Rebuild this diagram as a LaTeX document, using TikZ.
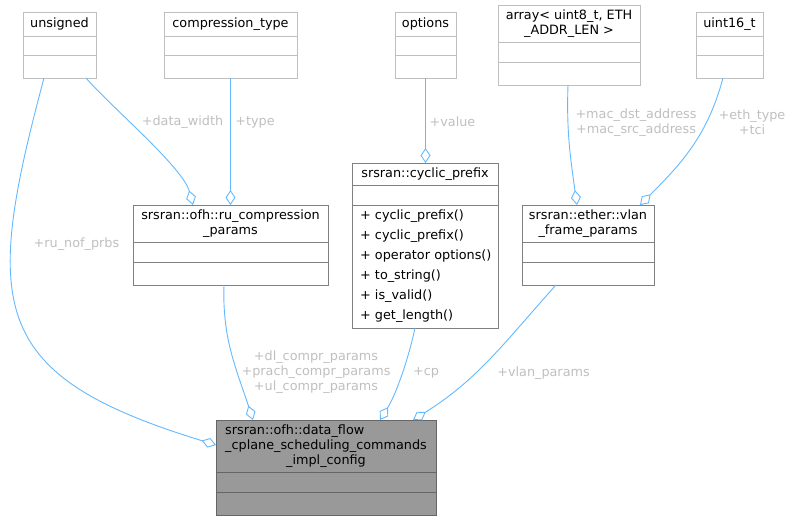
\documentclass[tikz,border=0pt]{standalone}
\usepackage{fontspec}
\setmainfont{DejaVu Sans}
\usepackage{tikz}
\usetikzlibrary{arrows.meta,positioning}
\definecolor{edgeblue}{HTML}{63B8FF}
\definecolor{labelgray}{HTML}{BFBFBF}
\definecolor{extgray}{HTML}{BFBFBF}
\definecolor{clsgray}{HTML}{808080}
\definecolor{maingray}{HTML}{999999}
\definecolor{mainborder}{HTML}{666666}
\newcommand{\dxfont}{\fontsize{12.8}{15}\selectfont}

\begin{document}
\begin{tikzpicture}[
    x=1pt, y=-1pt,
    node distance=0pt,
    box/.style={rectangle, draw, fill=white, line width=0.9pt, outer sep=0pt, inner sep=3pt, font=\dxfont, align=center},
    ext/.style={box, draw=extgray},
    cls/.style={box, draw=clsgray},
    mainbox/.style={box, draw=mainborder, fill=maingray},
    slot/.style 2 args={minimum width=#1, minimum height=#2},
    title/.style={anchor=north west},
    lbl/.style={font=\dxfont, text=labelgray, inner sep=0pt, align=center},
    link/.style={draw=edgeblue, line width=0.9pt, -{Diamond[open, length=15pt, width=10pt]}}
]
\useasboundingbox (0,0) rectangle (793,520);

% --- TOP ROW (member types) ---
\node (unsigned)   [ext, title, slot={73pt}{24pt}] at (23,12) {unsigned};
\node (unsigned-a) [ext, below=of unsigned, slot={73pt}{19pt}] {};
\node (unsigned-m) [ext, below=of unsigned-a, slot={73pt}{23pt}] {};

\node (comptype)   [ext, title, slot={133pt}{24pt}] at (164,12) {compression\_type};
\node (comptype-a) [ext, below=of comptype, slot={133pt}{19pt}] {};
\node (comptype-m) [ext, below=of comptype-a, slot={133pt}{23pt}] {};

\node (options)   [ext, title, slot={61pt}{24pt}] at (395,12) {options};
\node (options-a) [ext, below=of options, slot={61pt}{19pt}] {};
\node (options-m) [ext, below=of options-a, slot={61pt}{23pt}] {};

\node (array)   [ext, title, slot={142pt}{37pt}] at (498,5) {array< uint8\_t, ETH\\\_ADDR\_LEN >};
\node (array-a) [ext, below=of array, slot={142pt}{20pt}] {};
\node (array-m) [ext, below=of array-a, slot={142pt}{23pt}] {};

\node (uint16)   [ext, title, slot={67pt}{24pt}] at (696,12) {uint16\_t};
\node (uint16-a) [ext, below=of uint16, slot={67pt}{19pt}] {};
\node (uint16-m) [ext, below=of uint16-a, slot={67pt}{23pt}] {};

% --- MIDDLE ROW (srsran classes) ---
\node (rucomp)   [cls, title, slot={195pt}{37pt}] at (133,205) {srsran::ofh::ru\_compression\\\_params};
\node (rucomp-a) [cls, below=of rucomp, slot={195pt}{20pt}] {};
\node (rucomp-m) [cls, below=of rucomp-a, slot={195pt}{23pt}] {};

\node (cyclic)   [cls, title, slot={146pt}{22pt}] at (352,163) {srsran::cyclic\_prefix};
\node (cyclic-a) [cls, below=of cyclic, slot={146pt}{20pt}] {};
\node (cyclic-m) [cls, below=of cyclic-a, minimum height=123pt, inner xsep=8pt, text width=130pt, align=left,
                  font=\fontsize{12.8}{20}\selectfont]
    {+~cyclic\_prefix()\\+~cyclic\_prefix()\\\mbox{+~operator options()}\\+~to\_string()\\+~is\_valid()\\+~get\_length()};

\node (vlan)   [cls, title, slot={132pt}{37pt}] at (522,205) {srsran::ether::vlan\\\_frame\_params};
\node (vlan-a) [cls, below=of vlan, slot={132pt}{20pt}] {};
\node (vlan-m) [cls, below=of vlan-a, slot={132pt}{23pt}] {};

% --- BOTTOM (the config struct) ---
\node (main)   [mainbox, title, slot={220pt}{52pt}] at (216,420)
    {\rlap{srsran::ofh::data\_flow}\phantom{\_cplane\_scheduling\_commands}\\\_cplane\_scheduling\_commands\\\_impl\_config};
\node (main-a) [mainbox, below=of main, slot={220pt}{20pt}] {};
\node (main-m) [mainbox, below=of main-a, slot={220pt}{23pt}] {};

% --- MEMBER LINKS ---
\draw [link] ([xshift=21pt]unsigned-m.south west) to[out=-105, in=163, looseness=1.5] ([yshift=-25pt]main.north west);
\draw [link] ([xshift=63pt]unsigned-m.south west) to[out=-49, in=105, looseness=0.6] ([xshift=60pt]rucomp.north west);
\draw [link] (comptype-m.south) -- (comptype-m.south |- rucomp.north);
\draw [link] (options-m.south) -- (options-m.south |- cyclic.north);
\draw [link] ([xshift=70pt]array-m.south west) to[out=-92, in=98] ([xshift=55pt]vlan.north west);
\draw [link] ([xshift=27pt]uint16-m.south west) to[out=-105, in=45] ([xshift=118pt]vlan.north west);
\draw [link] ([xshift=91pt]rucomp-m.south west) to[out=-92, in=108] ([xshift=37pt]main.north west);
\draw [link] ([xshift=63pt]cyclic-m.south west) to[out=-102, in=58, looseness=0.8] ([xshift=164pt]main.north west);
\draw [link] ([xshift=34pt]vlan-m.south west) to[out=-132, in=32] ([xshift=197pt]main.north west);

% labels
\node (l-nof)   [lbl] at (76.5,244) {+ru\_nof\_prbs};
\node (l-width) [lbl] at (182.5,122) {+data\_width};
\node (l-type)  [lbl] at (255,122) {+type};
\node (l-value) [lbl] at (452.5,122) {+value};
\node (l-mac)   [lbl] at (636,122.5) {+mac\_dst\_address\\+mac\_src\_address};
\node (l-eth)   [lbl] at (752,122.5) {+eth\_type\\+tci};
\node (l-compr) [lbl] at (316,372.5) {+dl\_compr\_params\\+prach\_compr\_params\\+ul\_compr\_params};
\node (l-cp)    [lbl] at (426,373) {+cp};
\node (l-vlan)  [lbl] at (543.5,373) {+vlan\_params};

\end{tikzpicture}
\end{document}
